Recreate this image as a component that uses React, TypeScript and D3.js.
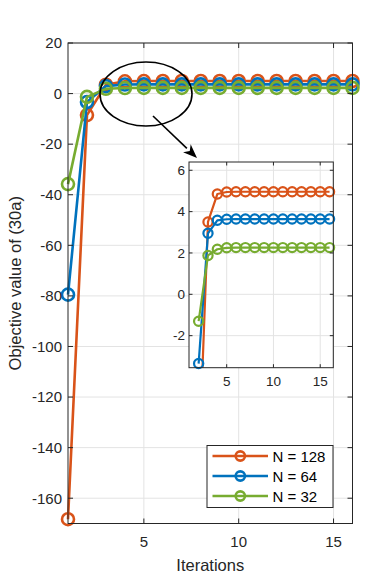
import React, { useRef, useEffect } from "react";
import * as d3 from "d3";

// iterations and objective values
const iterations = [1, 2, 3, 4, 5, 6, 7, 8, 9, 10, 11, 12, 13, 14, 15, 16];
const n128 = [-168.3, -8.5, 3.5, 4.85, 4.95, 4.96, 4.96, 4.96, 4.96, 4.96, 4.96, 4.96, 4.96, 4.96, 4.96, 4.96];
const n64 = [-79.5, -3.35, 2.95, 3.58, 3.63, 3.64, 3.64, 3.64, 3.64, 3.64, 3.64, 3.64, 3.64, 3.64, 3.64, 3.64];
const n32 = [-35.8, -1.3, 1.88, 2.18, 2.25, 2.26, 2.26, 2.26, 2.26, 2.26, 2.26, 2.26, 2.26, 2.26, 2.26, 2.26];
const seriesNames = ["N = 128", "N = 64", "N = 32"];
const seriesColors = ["#D95319", "#0072BD", "#77AC30"];

const mainXTicks = [5, 10, 15];
const mainYTicks = [20, 0, -20, -40, -60, -80, -100, -120, -140, -160];
const insetXTicks = [5, 10, 15];
const insetYTicks = [6, 4, 2, 0, -2];

const FONT = "'Liberation Sans', Arial, Helvetica, sans-serif";
const AXIS = "#262626";
const GRID = "#e3e3e3";

export default function App() {
  const svgRef = useRef<SVGSVGElement>(null);

  useEffect(() => {
    const svg = d3.select(svgRef.current);
    svg.selectAll("*").remove();

    const series = [n128, n64, n32].map((vals, i) => ({
      name: seriesNames[i],
      color: seriesColors[i],
      pts: vals.map((v, j) => ({ x: iterations[j], y: v })),
    }));

    // ---------- main axes ----------
    const m = { left: 68, right: 352.5, top: 43, bottom: 523.5 };
    const x = d3.scaleLinear().domain([1, 16]).range([m.left, m.right]);
    const y = d3.scaleLinear().domain([-170, 20]).range([m.bottom, m.top]);

    const g = svg.append("g");
    g.append("rect")
      .attr("x", m.left).attr("y", m.top)
      .attr("width", m.right - m.left).attr("height", m.bottom - m.top)
      .attr("fill", "#fff");

    // grid
    g.selectAll("line.gx").data(mainXTicks).join("line")
      .attr("x1", (d) => x(d)).attr("x2", (d) => x(d))
      .attr("y1", m.top).attr("y2", m.bottom)
      .attr("stroke", GRID);
    g.selectAll("line.gy").data(mainYTicks).join("line")
      .attr("class", "gy")
      .attr("x1", m.left).attr("x2", m.right)
      .attr("y1", (d) => y(d)).attr("y2", (d) => y(d))
      .attr("stroke", GRID);

    const lineMain = d3.line<{ x: number; y: number }>().x((d) => x(d.x)).y((d) => y(d.y));
    series.forEach((s) => {
      const sg = g.append("g");
      sg.append("path").attr("d", lineMain(s.pts)).attr("fill", "none")
        .attr("stroke", s.color).attr("stroke-width", 2.6).attr("stroke-linejoin", "round");
      sg.selectAll("circle").data(s.pts).join("circle")
        .attr("cx", (d) => x(d.x)).attr("cy", (d) => y(d.y)).attr("r", 6)
        .attr("fill", "none").attr("stroke", s.color).attr("stroke-width", 2.6);
    });

    // axes box + ticks
    const tl = 5;
    g.append("rect")
      .attr("x", m.left).attr("y", m.top)
      .attr("width", m.right - m.left).attr("height", m.bottom - m.top)
      .attr("fill", "none").attr("stroke", AXIS).attr("stroke-width", 1);
    mainXTicks.forEach((t) => {
      g.append("line").attr("x1", x(t)).attr("x2", x(t)).attr("y1", m.bottom).attr("y2", m.bottom - tl).attr("stroke", AXIS);
      g.append("line").attr("x1", x(t)).attr("x2", x(t)).attr("y1", m.top).attr("y2", m.top + tl).attr("stroke", AXIS);
      g.append("text").attr("x", x(t)).attr("y", m.bottom + 23.5)
        .attr("text-anchor", "middle").attr("font-size", 15).attr("font-family", FONT).attr("fill", AXIS)
        .text(t);
    });
    mainYTicks.forEach((t) => {
      g.append("line").attr("x1", m.left).attr("x2", m.left + tl).attr("y1", y(t)).attr("y2", y(t)).attr("stroke", AXIS);
      g.append("line").attr("x1", m.right).attr("x2", m.right - tl).attr("y1", y(t)).attr("y2", y(t)).attr("stroke", AXIS);
      g.append("text").attr("x", m.left - 6).attr("y", y(t) + 5.3)
        .attr("text-anchor", "end").attr("font-size", 15).attr("font-family", FONT).attr("fill", AXIS)
        .text(t);
    });

    g.append("text")
      .attr("x", (m.left + m.right) / 2).attr("y", 571)
      .attr("text-anchor", "middle").attr("font-size", 16.5).attr("font-family", FONT).attr("fill", AXIS)
      .text("Iterations");
    g.append("text")
      .attr("transform", `translate(21,${(m.top + m.bottom) / 2}) rotate(-90)`)
      .attr("text-anchor", "middle").attr("font-size", 16.5).attr("font-family", FONT).attr("fill", AXIS)
      .text("Objective value of (30a)");

    // zoom ellipse + arrow
    g.append("ellipse").attr("cx", 146).attr("cy", 94).attr("rx", 46).attr("ry", 32)
      .attr("fill", "none").attr("stroke", "#000").attr("stroke-width", 1.6);
    const a0 = [153, 116], a1 = [197, 158];
    const ang = Math.atan2(a1[1] - a0[1], a1[0] - a0[0]);
    const hl = 14, hw = 5.5;
    const base = [a1[0] - hl * Math.cos(ang), a1[1] - hl * Math.sin(ang)];
    g.append("line").attr("x1", a0[0]).attr("y1", a0[1]).attr("x2", base[0]).attr("y2", base[1])
      .attr("stroke", "#000").attr("stroke-width", 1.6);
    const px = -Math.sin(ang), py = Math.cos(ang);
    g.append("path")
      .attr("d", `M${a1[0]},${a1[1]}L${base[0] + hw * px},${base[1] + hw * py}L${base[0] + 4 * Math.cos(ang)},${base[1] + 4 * Math.sin(ang)}L${base[0] - hw * px},${base[1] - hw * py}Z`)
      .attr("fill", "#000");

    // ---------- inset axes ----------
    const n = { left: 189, right: 333.3, top: 162, bottom: 367.7 };
    const xi = d3.scaleLinear().domain([0.97, 16.4]).range([n.left, n.right]);
    const yi = d3.scaleLinear().domain([-3.55, 6.4]).range([n.bottom, n.top]);
    const ig = svg.append("g");
    ig.append("defs").append("clipPath").attr("id", "insetClip")
      .append("rect").attr("x", n.left).attr("y", n.top)
      .attr("width", n.right - n.left).attr("height", n.bottom - n.top);
    ig.append("rect").attr("x", n.left).attr("y", n.top)
      .attr("width", n.right - n.left).attr("height", n.bottom - n.top).attr("fill", "#fff");
    insetXTicks.forEach((t) => {
      ig.append("line").attr("x1", xi(t)).attr("x2", xi(t)).attr("y1", n.top).attr("y2", n.bottom).attr("stroke", GRID);
    });
    insetYTicks.forEach((t) => {
      ig.append("line").attr("x1", n.left).attr("x2", n.right).attr("y1", yi(t)).attr("y2", yi(t)).attr("stroke", GRID);
    });
    const lineIn = d3.line<{ x: number; y: number }>().x((d) => xi(d.x)).y((d) => yi(d.y));
    const clipG = ig.append("g").attr("clip-path", "url(#insetClip)");
    series.forEach((s) => {
      const inPts = s.pts.filter((d) => d.x >= 2);
      clipG.append("path").attr("d", lineIn(inPts)).attr("fill", "none")
        .attr("stroke", s.color).attr("stroke-width", 2.2).attr("stroke-linejoin", "round");
    });
    series.forEach((s) => {
      const vis = s.pts.filter((d) => d.x >= 2 && d.y >= -3.55 && d.y <= 6.4);
      ig.append("g").selectAll("circle").data(vis).join("circle")
        .attr("cx", (d) => xi(d.x)).attr("cy", (d) => yi(d.y)).attr("r", 4.6)
        .attr("fill", "none").attr("stroke", s.color).attr("stroke-width", 2.2);
    });
    ig.append("rect").attr("x", n.left).attr("y", n.top)
      .attr("width", n.right - n.left).attr("height", n.bottom - n.top)
      .attr("fill", "none").attr("stroke", AXIS).attr("stroke-width", 1);
    const itl = 3.5;
    insetXTicks.forEach((t) => {
      ig.append("line").attr("x1", xi(t)).attr("x2", xi(t)).attr("y1", n.bottom).attr("y2", n.bottom - itl).attr("stroke", AXIS);
      ig.append("line").attr("x1", xi(t)).attr("x2", xi(t)).attr("y1", n.top).attr("y2", n.top + itl).attr("stroke", AXIS);
      ig.append("text").attr("x", xi(t)).attr("y", n.bottom + 18.5)
        .attr("text-anchor", "middle").attr("font-size", 13.5).attr("font-family", FONT).attr("fill", AXIS)
        .text(t);
    });
    insetYTicks.forEach((t) => {
      ig.append("line").attr("x1", n.left).attr("x2", n.left + itl).attr("y1", yi(t)).attr("y2", yi(t)).attr("stroke", AXIS);
      ig.append("line").attr("x1", n.right).attr("x2", n.right - itl).attr("y1", yi(t)).attr("y2", yi(t)).attr("stroke", AXIS);
      ig.append("text").attr("x", n.left - 4).attr("y", yi(t) + 4.8)
        .attr("text-anchor", "end").attr("font-size", 13.5).attr("font-family", FONT).attr("fill", AXIS)
        .text(t);
    });

    // ---------- legend ----------
    const L = { left: 207, right: 333, top: 445.5, bottom: 507.5 };
    const lg = svg.append("g");
    lg.append("rect").attr("x", L.left).attr("y", L.top)
      .attr("width", L.right - L.left).attr("height", L.bottom - L.top)
      .attr("fill", "#fff").attr("stroke", AXIS).attr("stroke-width", 1);
    series.forEach((s, i) => {
      const cy = 456 + i * 20;
      lg.append("line").attr("x1", 212.5).attr("x2", 268).attr("y1", cy).attr("y2", cy)
        .attr("stroke", s.color).attr("stroke-width", 2.6);
      lg.append("circle").attr("cx", 240.3).attr("cy", cy).attr("r", 4.6)
        .attr("fill", "none").attr("stroke", s.color).attr("stroke-width", 2.6);
      lg.append("text").attr("x", 272.5).attr("y", cy + 5.5)
        .attr("font-size", 15).attr("font-family", FONT).attr("fill", "#000")
        .text(s.name);
    });
  }, []);

  return (
    <div style={{ position: "fixed", left: 0, top: 0, background: "#fff" }}>
      <svg ref={svgRef} width={390} height={588} style={{ display: "block" }} />
    </div>
  );
}
